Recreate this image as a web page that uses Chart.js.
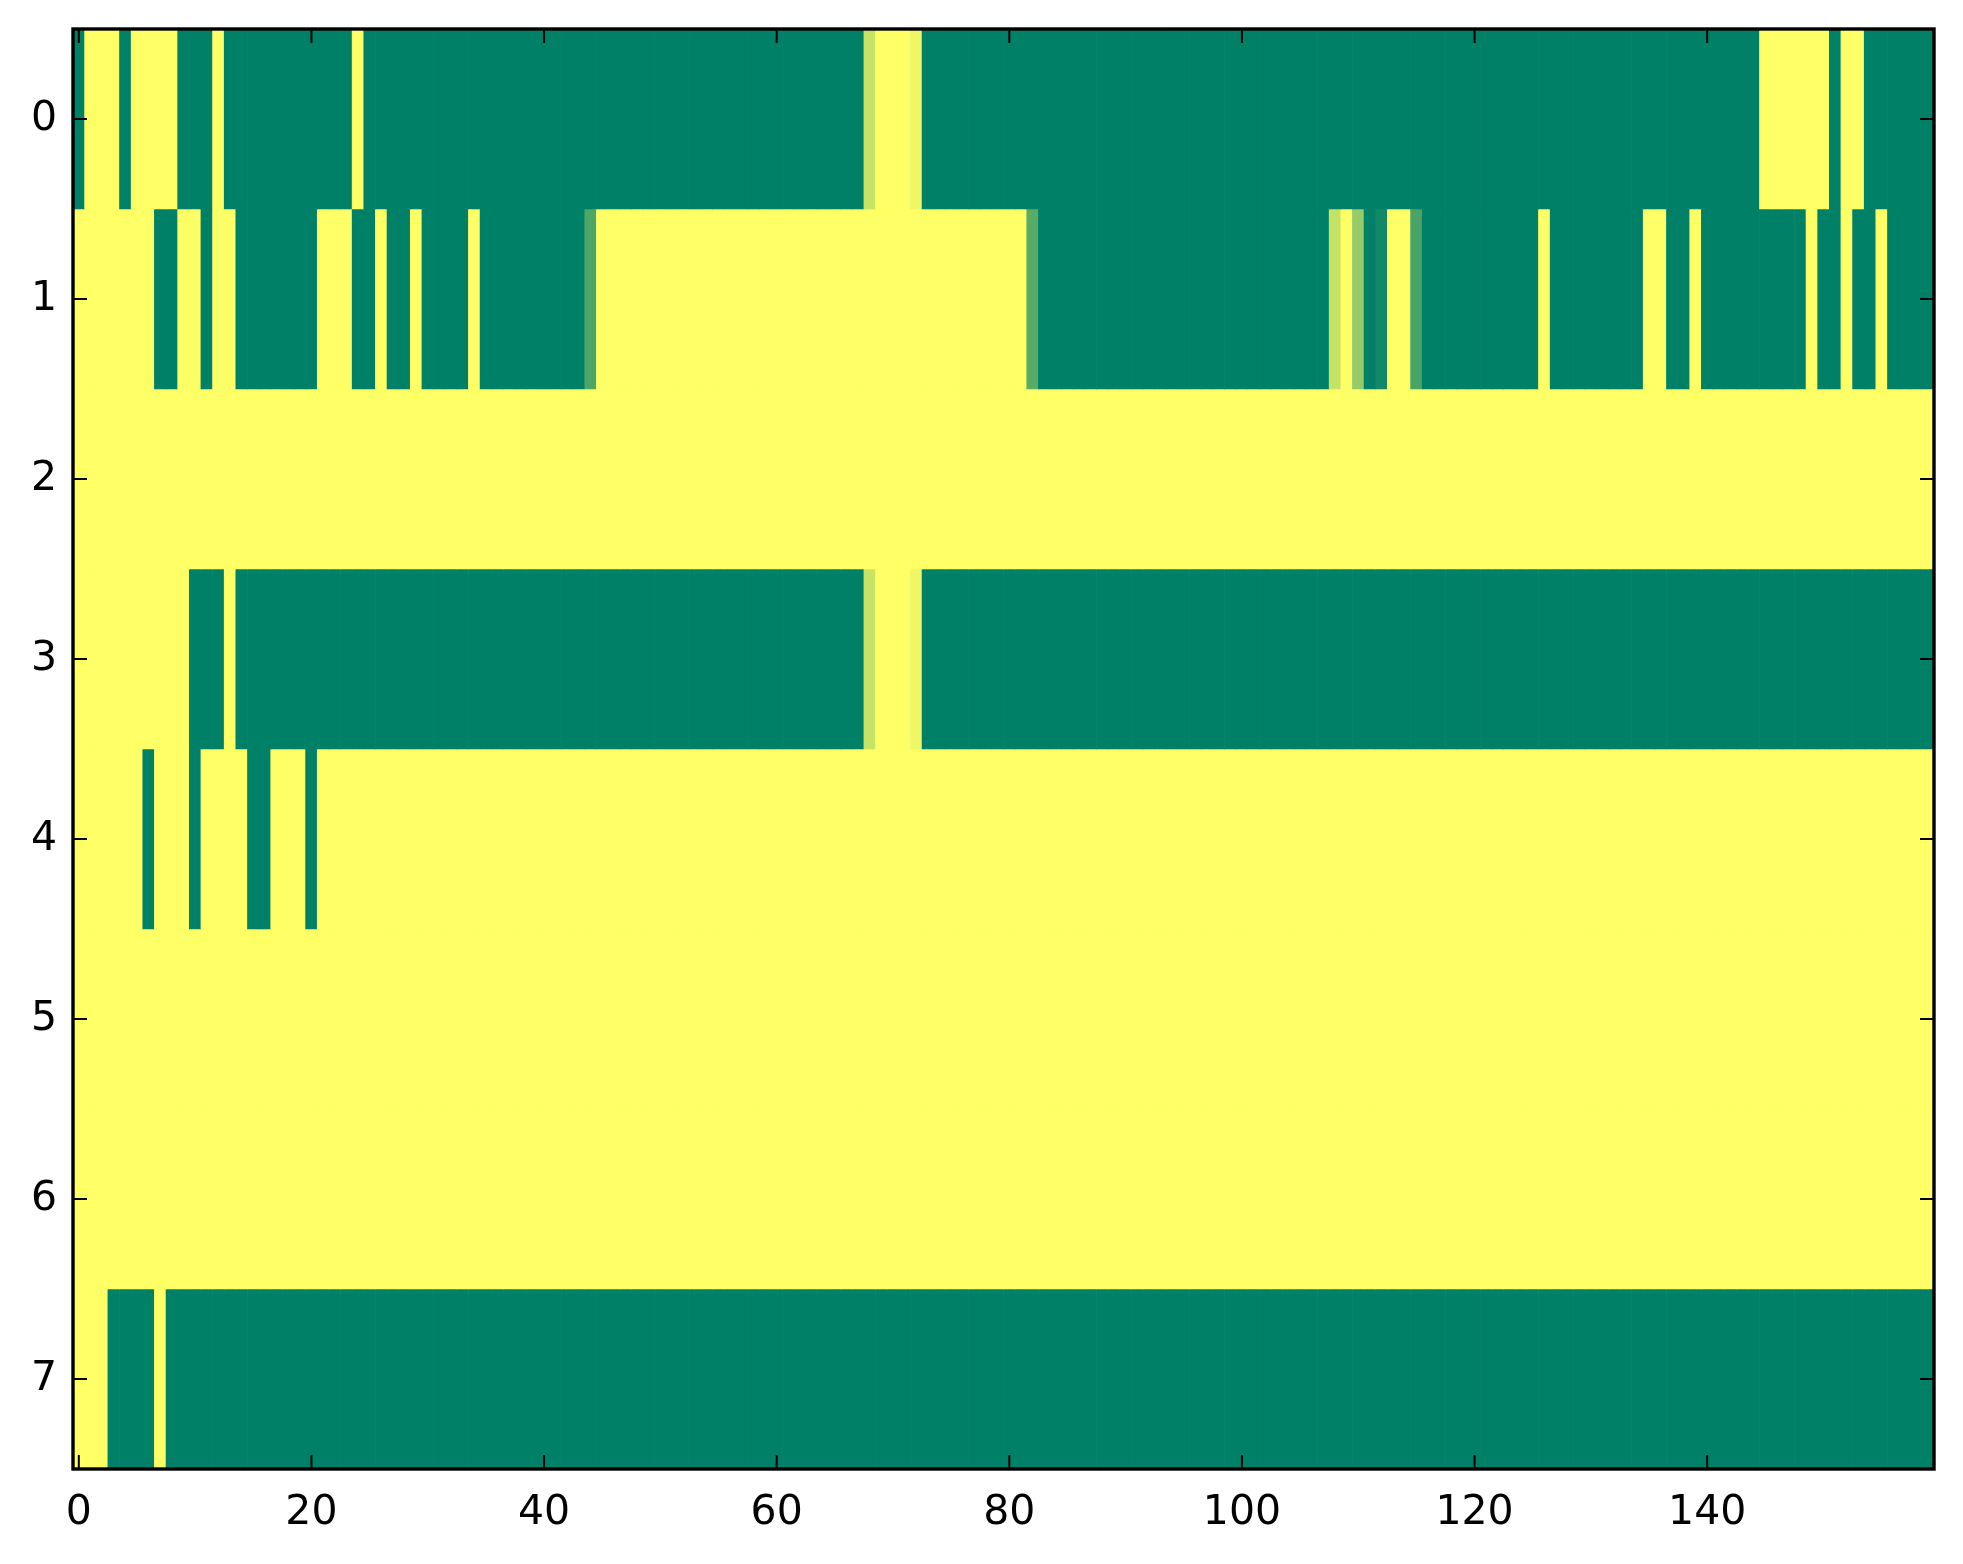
<!DOCTYPE html>
<html>
<head>
<meta charset="utf-8">
<title>heatmap</title>
<script src="https://cdn.jsdelivr.net/npm/chart.js@4.4.1/dist/chart.umd.min.js"></script>
<style>
  html, body { margin: 0; padding: 0; background: #ffffff; }
  canvas { display: block; }
</style>
</head>
<body>
<canvas id="heat" width="1963" height="1564"></canvas>
<script>
// one array per image row, 160 cells each (values 0..1, colormap "summer")
const row0 = [
    0, 1, 1, 1, 0, 1, 1, 1, 1, 0, 0, 0, 1, 0, 0, 0, 0, 0, 0, 0,
    0, 0, 0, 0, 1, 0, 0, 0, 0, 0, 0, 0, 0, 0, 0, 0, 0, 0, 0, 0,
    0, 0, 0, 0, 0, 0, 0, 0, 0, 0, 0, 0, 0, 0, 0, 0, 0, 0, 0, 0,
    0, 0, 0, 0, 0, 0, 0, 0, 0.78, 1, 1, 1, 0.94, 0, 0, 0, 0, 0, 0, 0,
    0, 0, 0, 0, 0, 0, 0, 0, 0, 0, 0, 0, 0, 0, 0, 0, 0, 0, 0, 0,
    0, 0, 0, 0, 0, 0, 0, 0, 0, 0, 0, 0, 0, 0, 0, 0, 0, 0, 0, 0,
    0, 0, 0, 0, 0, 0, 0, 0, 0, 0, 0, 0, 0, 0, 0, 0, 0, 0, 0, 0,
    0, 0, 0, 0, 0, 1, 1, 1, 1, 1, 1, 0, 1, 1, 0, 0, 0, 0, 0, 0
]
const row1 = [
    1, 1, 1, 1, 1, 1, 1, 0, 0, 1, 1, 0, 1, 1, 0, 0, 0, 0, 0, 0,
    0, 1, 1, 1, 0, 0, 1, 0, 0, 1, 0, 0, 0, 0, 1, 0, 0, 0, 0, 0,
    0, 0, 0, 0, 0.3, 1, 1, 1, 1, 1, 1, 1, 1, 1, 1, 1, 1, 1, 1, 1,
    1, 1, 1, 1, 1, 1, 1, 1, 1, 1, 1, 1, 1, 1, 1, 1, 1, 1, 1, 1,
    1, 1, 0.35, 0, 0, 0, 0, 0, 0, 0, 0, 0, 0, 0, 0, 0, 0, 0, 0, 0,
    0, 0, 0, 0, 0, 0, 0, 0, 0.77, 1, 0.59, 0, 0.07, 1, 1, 0.29, 0, 0, 0, 0,
    0, 0, 0, 0, 0, 0, 1, 0, 0, 0, 0, 0, 0, 0, 0, 1, 1, 0, 0, 1,
    0, 0, 0, 0, 0, 0, 0, 0, 0, 1, 0, 0, 1, 0, 0, 1, 0, 0, 0, 0
]
const row2 = [
    1, 1, 1, 1, 1, 1, 1, 1, 1, 1, 1, 1, 1, 1, 1, 1, 1, 1, 1, 1,
    1, 1, 1, 1, 1, 1, 1, 1, 1, 1, 1, 1, 1, 1, 1, 1, 1, 1, 1, 1,
    1, 1, 1, 1, 1, 1, 1, 1, 1, 1, 1, 1, 1, 1, 1, 1, 1, 1, 1, 1,
    1, 1, 1, 1, 1, 1, 1, 1, 1, 1, 1, 1, 1, 1, 1, 1, 1, 1, 1, 1,
    1, 1, 1, 1, 1, 1, 1, 1, 1, 1, 1, 1, 1, 1, 1, 1, 1, 1, 1, 1,
    1, 1, 1, 1, 1, 1, 1, 1, 1, 1, 1, 1, 1, 1, 1, 1, 1, 1, 1, 1,
    1, 1, 1, 1, 1, 1, 1, 1, 1, 1, 1, 1, 1, 1, 1, 1, 1, 1, 1, 1,
    1, 1, 1, 1, 1, 1, 1, 1, 1, 1, 1, 1, 1, 1, 1, 1, 1, 1, 1, 1
]
const row3 = [
    1, 1, 1, 1, 1, 1, 1, 1, 1, 1, 0, 0, 0, 1, 0, 0, 0, 0, 0, 0,
    0, 0, 0, 0, 0, 0, 0, 0, 0, 0, 0, 0, 0, 0, 0, 0, 0, 0, 0, 0,
    0, 0, 0, 0, 0, 0, 0, 0, 0, 0, 0, 0, 0, 0, 0, 0, 0, 0, 0, 0,
    0, 0, 0, 0, 0, 0, 0, 0, 0.78, 1, 1, 1, 0.94, 0, 0, 0, 0, 0, 0, 0,
    0, 0, 0, 0, 0, 0, 0, 0, 0, 0, 0, 0, 0, 0, 0, 0, 0, 0, 0, 0,
    0, 0, 0, 0, 0, 0, 0, 0, 0, 0, 0, 0, 0, 0, 0, 0, 0, 0, 0, 0,
    0, 0, 0, 0, 0, 0, 0, 0, 0, 0, 0, 0, 0, 0, 0, 0, 0, 0, 0, 0,
    0, 0, 0, 0, 0, 0, 0, 0, 0, 0, 0, 0, 0, 0, 0, 0, 0, 0, 0, 0
]
const row4 = [
    1, 1, 1, 1, 1, 1, 0, 1, 1, 1, 0, 1, 1, 1, 1, 0, 0, 1, 1, 1,
    0, 1, 1, 1, 1, 1, 1, 1, 1, 1, 1, 1, 1, 1, 1, 1, 1, 1, 1, 1,
    1, 1, 1, 1, 1, 1, 1, 1, 1, 1, 1, 1, 1, 1, 1, 1, 1, 1, 1, 1,
    1, 1, 1, 1, 1, 1, 1, 1, 1, 1, 1, 1, 1, 1, 1, 1, 1, 1, 1, 1,
    1, 1, 1, 1, 1, 1, 1, 1, 1, 1, 1, 1, 1, 1, 1, 1, 1, 1, 1, 1,
    1, 1, 1, 1, 1, 1, 1, 1, 1, 1, 1, 1, 1, 1, 1, 1, 1, 1, 1, 1,
    1, 1, 1, 1, 1, 1, 1, 1, 1, 1, 1, 1, 1, 1, 1, 1, 1, 1, 1, 1,
    1, 1, 1, 1, 1, 1, 1, 1, 1, 1, 1, 1, 1, 1, 1, 1, 1, 1, 1, 1
]
const row5 = [
    1, 1, 1, 1, 1, 1, 1, 1, 1, 1, 1, 1, 1, 1, 1, 1, 1, 1, 1, 1,
    1, 1, 1, 1, 1, 1, 1, 1, 1, 1, 1, 1, 1, 1, 1, 1, 1, 1, 1, 1,
    1, 1, 1, 1, 1, 1, 1, 1, 1, 1, 1, 1, 1, 1, 1, 1, 1, 1, 1, 1,
    1, 1, 1, 1, 1, 1, 1, 1, 1, 1, 1, 1, 1, 1, 1, 1, 1, 1, 1, 1,
    1, 1, 1, 1, 1, 1, 1, 1, 1, 1, 1, 1, 1, 1, 1, 1, 1, 1, 1, 1,
    1, 1, 1, 1, 1, 1, 1, 1, 1, 1, 1, 1, 1, 1, 1, 1, 1, 1, 1, 1,
    1, 1, 1, 1, 1, 1, 1, 1, 1, 1, 1, 1, 1, 1, 1, 1, 1, 1, 1, 1,
    1, 1, 1, 1, 1, 1, 1, 1, 1, 1, 1, 1, 1, 1, 1, 1, 1, 1, 1, 1
]
const row6 = [
    1, 1, 1, 1, 1, 1, 1, 1, 1, 1, 1, 1, 1, 1, 1, 1, 1, 1, 1, 1,
    1, 1, 1, 1, 1, 1, 1, 1, 1, 1, 1, 1, 1, 1, 1, 1, 1, 1, 1, 1,
    1, 1, 1, 1, 1, 1, 1, 1, 1, 1, 1, 1, 1, 1, 1, 1, 1, 1, 1, 1,
    1, 1, 1, 1, 1, 1, 1, 1, 1, 1, 1, 1, 1, 1, 1, 1, 1, 1, 1, 1,
    1, 1, 1, 1, 1, 1, 1, 1, 1, 1, 1, 1, 1, 1, 1, 1, 1, 1, 1, 1,
    1, 1, 1, 1, 1, 1, 1, 1, 1, 1, 1, 1, 1, 1, 1, 1, 1, 1, 1, 1,
    1, 1, 1, 1, 1, 1, 1, 1, 1, 1, 1, 1, 1, 1, 1, 1, 1, 1, 1, 1,
    1, 1, 1, 1, 1, 1, 1, 1, 1, 1, 1, 1, 1, 1, 1, 1, 1, 1, 1, 1
]
const row7 = [
    1, 1, 1, 0, 0, 0, 0, 1, 0, 0, 0, 0, 0, 0, 0, 0, 0, 0, 0, 0,
    0, 0, 0, 0, 0, 0, 0, 0, 0, 0, 0, 0, 0, 0, 0, 0, 0, 0, 0, 0,
    0, 0, 0, 0, 0, 0, 0, 0, 0, 0, 0, 0, 0, 0, 0, 0, 0, 0, 0, 0,
    0, 0, 0, 0, 0, 0, 0, 0, 0, 0, 0, 0, 0, 0, 0, 0, 0, 0, 0, 0,
    0, 0, 0, 0, 0, 0, 0, 0, 0, 0, 0, 0, 0, 0, 0, 0, 0, 0, 0, 0,
    0, 0, 0, 0, 0, 0, 0, 0, 0, 0, 0, 0, 0, 0, 0, 0, 0, 0, 0, 0,
    0, 0, 0, 0, 0, 0, 0, 0, 0, 0, 0, 0, 0, 0, 0, 0, 0, 0, 0, 0,
    0, 0, 0, 0, 0, 0, 0, 0, 0, 0, 0, 0, 0, 0, 0, 0, 0, 0, 0, 0
]

const rows = [row0, row1, row2, row3, row4, row5, row6, row7]
const xTicks = [0, 20, 40, 60, 80, 100, 120, 140]
const yTicks = [0, 1, 2, 3, 4, 5, 6, 7]

// matplotlib "summer": green (0) -> yellow (1)
function summer(v) {
    const r = Math.round(255 * v)
    const g = Math.round(255 * (0.5 + v / 2))
    return 'rgb(' + r + ',' + g + ',102)'
}

const datasets = rows.map(function(values, r) {
    return {
        label: 'row ' + r,
        data: values.map(function(v, c) { return { x: c, y: [r - 0.5, r + 0.5] } }),
        backgroundColor: values.map(summer),
        borderWidth: 0,
        barPercentage: 1,
        categoryPercentage: 1,
        grouped: false
    }
})

// frame and inward ticks on all four sides, like the classic matplotlib axes
const framePlugin = {
    id: 'frame',
    afterDraw(chart) {
        const ctx = chart.ctx
        const a = chart.chartArea
        const xs = chart.scales.x
        const ys = chart.scales.y
        const len = 14
        ctx.save()
        ctx.strokeStyle = '#000000'
        ctx.lineWidth = 2
        ctx.beginPath()
        xTicks.forEach(function(t) {
            const px = xs.getPixelForValue(t)
            ctx.moveTo(px, a.bottom); ctx.lineTo(px, a.bottom - len)
            ctx.moveTo(px, a.top); ctx.lineTo(px, a.top + len)
        })
        yTicks.forEach(function(t) {
            const py = ys.getPixelForValue(t)
            ctx.moveTo(a.left, py); ctx.lineTo(a.left + len, py)
            ctx.moveTo(a.right, py); ctx.lineTo(a.right - len, py)
        })
        ctx.stroke()
        ctx.lineWidth = 3.4
        ctx.strokeRect(a.left, a.top, a.right - a.left, a.bottom - a.top)
        ctx.restore()
    }
}

const tickFont = { family: 'DejaVu Sans', size: 41 }

new Chart(document.getElementById('heat').getContext('2d'), {
    type: 'bar',
    data: { datasets: datasets },
    options: {
        responsive: false,
        devicePixelRatio: 1,
        animation: false,
        layout: { padding: { top: 29, right: 29, left: 0, bottom: 0 } },
        plugins: {
            legend: { display: false },
            tooltip: { enabled: false }
        },
        scales: {
            x: {
                type: 'linear',
                min: -0.5,
                max: 159.5,
                offset: false,
                grid: { display: false, drawTicks: false },
                border: { display: false },
                afterBuildTicks: function(axis) { axis.ticks = xTicks.map(function(v) { return { value: v } }) },
                afterFit: function(axis) {
                    axis.height = 95
                    axis.paddingLeft = 0
                    axis.paddingRight = 0
                },
                ticks: { font: tickFont, color: '#000000', padding: 20, autoSkip: false, maxRotation: 0 }
            },
            y: {
                type: 'linear',
                reverse: true,
                min: -0.5,
                max: 7.5,
                grid: { display: false, drawTicks: false },
                border: { display: false },
                afterBuildTicks: function(axis) { axis.ticks = yTicks.map(function(v) { return { value: v } }) },
                afterFit: function(axis) {
                    axis.width = 73
                    axis.paddingTop = 0
                    axis.paddingBottom = 0
                },
                ticks: { font: tickFont, color: '#000000', padding: 16, autoSkip: false }
            }
        }
    },
    plugins: [framePlugin]
})
</script>
</body>
</html>
